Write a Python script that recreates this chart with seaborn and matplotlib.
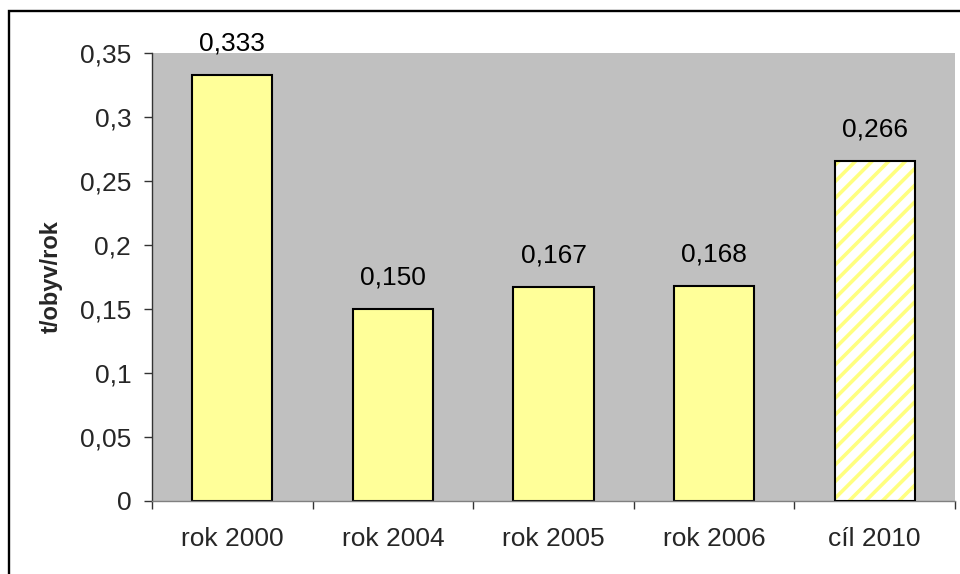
import matplotlib
matplotlib.use("Agg")
import matplotlib.pyplot as plt
import matplotlib.patches as mpatches
from matplotlib.ticker import FuncFormatter, FixedLocator
import seaborn as sns
import pandas as pd

# Produkce odpadu na obyvatele a cíl pro rok 2010
categories = ["rok 2000", "rok 2004", "rok 2005", "rok 2006", "cíl 2010"]
values = [0.333, 0.150, 0.167, 0.168, 0.266]
y_ticks = [0, 0.05, 0.1, 0.15, 0.2, 0.25, 0.3, 0.35]
y_label = "t/obyv/rok"

sns.set_theme(style="white")
plt.rcParams["font.family"] = ["Liberation Sans", "DejaVu Sans"]
plt.rcParams["hatch.linewidth"] = 2.6

df = pd.DataFrame({"kategorie": categories, "hodnota": values})

W, H = 960, 574
fig = plt.figure(figsize=(W / 100, H / 100), dpi=100)
fig.patch.set_facecolor("white")
ax = fig.add_axes([152 / W, 1 - 501 / H, (955 - 152) / W, (501 - 53) / H])
ax.set_facecolor("#C0C0C0")

sns.barplot(data=df, x="kategorie", y="hodnota", color="#FFFF99",
            saturation=1, width=0.5, edgecolor="black", linewidth=1.5,
            ax=ax, zorder=2)

# Cílová hodnota jako šrafovaný sloupec
target = ax.containers[0].patches[-1]
target.set_facecolor("white")
target.set_edgecolor("#FFFF80")
target.set_hatch("//")
target.set_linewidth(0)
outline = mpatches.Rectangle((target.get_x(), target.get_y()),
                             target.get_width(), target.get_height(),
                             fill=False, edgecolor="black", linewidth=1.5,
                             zorder=3)
ax.add_patch(outline)

ax.bar_label(ax.containers[0],
             labels=[f"{v:.3f}".replace(".", ",") for v in values],
             padding=14, fontsize=19, color="black")

ax.set_ylim(0, 0.35)
ax.set_xlim(-0.5, len(categories) - 0.5)
ax.yaxis.set_major_locator(FixedLocator(y_ticks))
ax.yaxis.set_major_formatter(FuncFormatter(lambda v, p: f"{v:g}".replace(".", ",")))
ax.xaxis.set_minor_locator(FixedLocator([i - 0.5 for i in range(len(categories) + 1)]))

ax.tick_params(axis="y", which="major", direction="out", length=6, width=1,
               color="#333333", labelsize=19, pad=9, left=True)
ax.tick_params(axis="x", which="major", length=0, labelsize=19, pad=19)
ax.tick_params(axis="x", which="minor", direction="out", length=6, width=1,
               color="#333333", bottom=True)

ax.set_xlabel("")
ax.set_ylabel(y_label, fontsize=17, fontweight="bold")
ax.yaxis.set_label_coords(-0.111, 0.5)

for side in ["top", "right"]:
    ax.spines[side].set_visible(False)
ax.spines["left"].set_color("#333333")
ax.spines["bottom"].set_color("#808080")
ax.spines["left"].set_linewidth(1)
ax.spines["bottom"].set_linewidth(1)

# Rámeček kolem celého grafu
frame = mpatches.Rectangle((9 / W, -0.1), 1.2, 1.1 - 11 / H, fill=False,
                           edgecolor="black", linewidth=1.7,
                           transform=fig.transFigure)
fig.add_artist(frame)

fig.savefig("out.png", dpi=100)
